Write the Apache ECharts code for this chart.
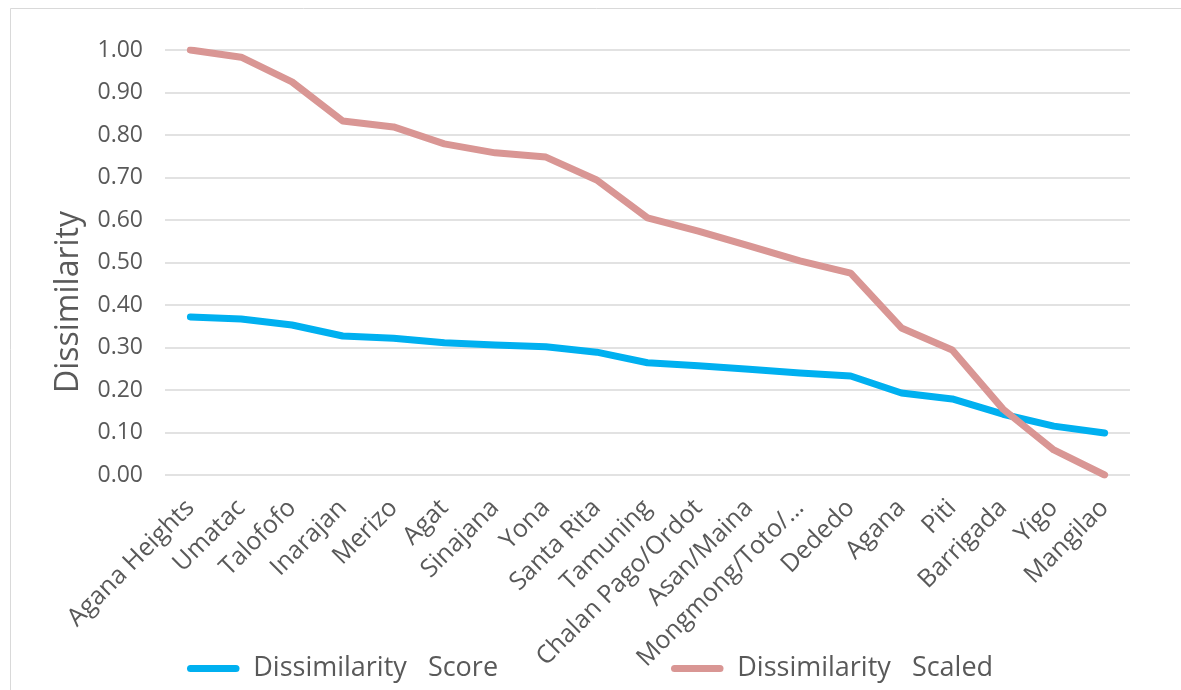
<!DOCTYPE html>
<html>
<head>
<meta charset="utf-8">
<script src="https://cdn.jsdelivr.net/npm/echarts@6/dist/echarts.min.js"></script>
<style>
  html, body { margin: 0; padding: 0; background: #fff; }
  #chart { width: 1181px; height: 690px; }
</style>
</head>
<body>
<div id="chart"></div>
<script>
// Villages ordered by dissimilarity
const villages = [
  'Agana Heights', 'Umatac', 'Talofofo', 'Inarajan', 'Merizo', 'Agat',
  'Sinajana', 'Yona', 'Santa Rita', 'Tamuning', 'Chalan Pago/Ordot',
  'Asan/Maina', 'Mongmong/Toto/…', 'Dededo', 'Agana', 'Piti',
  'Barrigada', 'Yigo', 'Mangilao'
];

// Raw dissimilarity score
const dissimilarityScore = [
  0.372, 0.367, 0.353, 0.327, 0.322, 0.311, 0.306, 0.302, 0.289, 0.264,
  0.257, 0.249, 0.240, 0.233, 0.193, 0.179, 0.143, 0.115, 0.099
];

// Score rescaled to the 0–1 range
const dissimilarityScaled = [
  1.000, 0.983, 0.925, 0.833, 0.819, 0.779, 0.758, 0.748, 0.694, 0.605,
  0.574, 0.539, 0.504, 0.475, 0.346, 0.294, 0.155, 0.059, 0.000
];

const yTicks = { min: 0, max: 1, interval: 0.1 };
const yTitle = 'Dissimilarity';
const seriesNames = ['Dissimilarity   Score', 'Dissimilarity   Scaled'];
const seriesColors = ['#00B0F0', '#D99694'];

const FONT = '"Open Sans", sans-serif';
const TEXT = '#595959';
const pill = 'path://M4,0 H56 A4,4 0 0 1 56,8 H4 A4,4 0 0 1 4,0 Z';

const chart = echarts.init(document.getElementById('chart'), null, { renderer: 'canvas' });

const legendBase = {
  orient: 'horizontal',
  top: 650,
  icon: pill,
  itemWidth: 58,
  itemHeight: 7,
  textStyle: { fontFamily: FONT, fontSize: 27, color: TEXT, padding: [0, 0, 0, 6] }
};

chart.setOption({
  animation: false,
  backgroundColor: '#ffffff',
  textStyle: { fontFamily: FONT },
  graphic: [
    {
      type: 'rect',
      shape: { x: 10.5, y: 8.5, width: 1200, height: 720 },
      style: { fill: 'none', stroke: '#d9d9d9', lineWidth: 1 },
      silent: true,
      z: -1
    },
    {
      // vertical axis title
      type: 'text',
      x: 69,
      y: 302,
      rotation: Math.PI / 2,
      style: {
        text: yTitle,
        font: '32px "Open Sans", sans-serif',
        fill: TEXT,
        align: 'center',
        verticalAlign: 'middle'
      },
      silent: true
    }
  ],
  grid: { left: 165, right: 51, top: 50, bottom: 215, containLabel: false },
  legend: [
    Object.assign({}, legendBase, { left: 182, data: [seriesNames[0]] }),
    Object.assign({}, legendBase, { left: 666, data: [seriesNames[1]] })
  ],
  xAxis: {
    type: 'category',
    data: villages,
    boundaryGap: true,
    axisLine: { show: false },
    axisTick: { show: false },
    axisLabel: {
      interval: 0,
      rotate: 45,
      margin: 29,
      fontFamily: FONT,
      fontSize: 25,
      color: TEXT
    },
    splitLine: { show: false }
  },
  yAxis: {
    type: 'value',
    min: yTicks.min,
    max: yTicks.max,
    interval: yTicks.interval,
    axisLine: { show: false },
    axisTick: { show: false },
    axisLabel: {
      margin: 22,
      fontFamily: FONT,
      fontSize: 23,
      color: TEXT,
      formatter: v => v.toFixed(2)
    },
    splitLine: { lineStyle: { color: '#d9d9d9', width: 1.5 } }
  },
  series: [
    {
      name: seriesNames[0],
      type: 'line',
      data: dissimilarityScore,
      showSymbol: false,
      symbol: 'none',
      color: seriesColors[0],
      lineStyle: { width: 7, color: seriesColors[0], cap: 'round', join: 'round' },
      z: 2
    },
    {
      name: seriesNames[1],
      type: 'line',
      data: dissimilarityScaled,
      showSymbol: false,
      symbol: 'none',
      color: seriesColors[1],
      lineStyle: { width: 7, color: seriesColors[1], cap: 'round', join: 'round' },
      z: 3
    }
  ]
});
</script>
</body>
</html>
